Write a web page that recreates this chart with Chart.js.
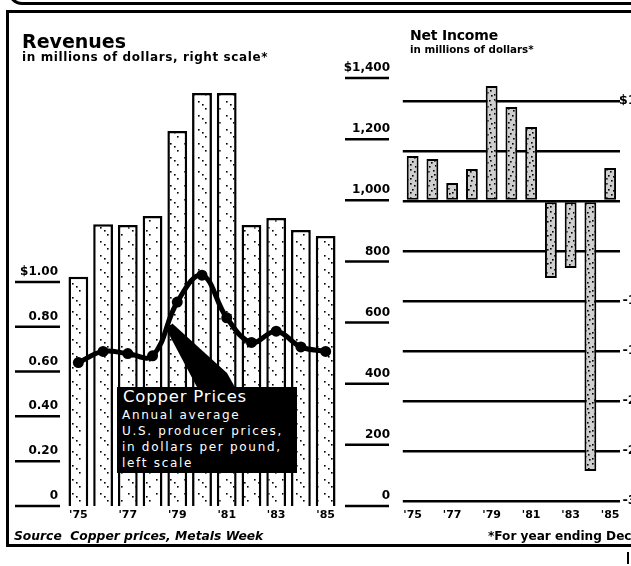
<!DOCTYPE html>
<html>
<head>
<meta charset="utf-8">
<script src="https://cdn.jsdelivr.net/npm/chart.js@4"></script>
<style>
  html, body { margin: 0; padding: 0; background: #fff; overflow: hidden; }
  #wrap { position: relative; width: 631px; height: 566px; overflow: hidden; font-family: "DejaVu Sans", sans-serif; color: #000; }
  canvas { position: absolute; top: 0; }
  #revChart { left: 0; }
  #incChart { left: 395px; }
  .txt { position: absolute; white-space: nowrap; font-weight: bold; }
  .rule { position: absolute; border-color: #000; border-style: solid; border-width: 0; }
  #copperBox { position: absolute; left: 117px; top: 387px; width: 180px; height: 86px; background: #000; color: #fff; }
  #copperBox .head { position: absolute; left: 6px; top: 1px; font-size: 16.5px; line-height: 18px; letter-spacing: 0.8px; }
  #copperBox .body { position: absolute; left: 5px; top: 20px; font-size: 12px; line-height: 16px; letter-spacing: 1.7px; }
</style>
</head>
<body>
<div id="wrap">
  <div class="rule" style="left:8px;top:-12px;width:700px;height:14px;border-left-width:3px;border-bottom-width:3px;border-bottom-left-radius:14px;"></div>
  <div class="rule" style="left:6px;top:10px;width:640px;border-top-width:3px;"></div>
  <div class="rule" style="left:6px;top:10px;height:536px;border-left-width:3px;"></div>
  <div class="rule" style="left:6px;top:544px;width:640px;border-top-width:3px;"></div>
  <div class="rule" style="left:627px;top:552px;height:12px;border-left-width:2px;"></div>

  <canvas id="revChart" width="400" height="566"></canvas>
  <canvas id="incChart" width="265" height="566"></canvas>

  <div class="txt" style="left:22px;top:31px;font-size:19px;line-height:20px;">Revenues</div>
  <div class="txt" style="left:22px;top:50px;font-size:12px;line-height:14px;letter-spacing:0.6px;">in millions of dollars, right scale*</div>
  <div class="txt" style="left:410px;top:26px;font-size:14px;line-height:18px;letter-spacing:-0.2px;">Net Income</div>
  <div class="txt" style="left:410px;top:42px;font-size:10.3px;line-height:14px;">in millions of dollars*</div>
  <div class="txt" style="left:14px;top:529px;font-size:12.3px;line-height:14px;font-style:italic;">Source&nbsp; Copper prices, Metals Week</div>
  <div class="txt" style="left:488px;top:529px;font-size:12.1px;line-height:14px;">*For year ending Dec. 31</div>

  <div id="copperBox">
    <div class="head">Copper Prices</div>
    <div class="body">Annual average<br>U.S. producer prices,<br>in dollars per pound,<br>left scale</div>
  </div>
</div>

<script>
const years = ["'75", "'76", "'77", "'78", "'79", "'80", "'81", "'82", "'83", "'84", "'85"];
// millions of dollars, right scale
const revenues = [750, 922, 919, 949, 1227, 1351, 1351, 919, 942, 903, 883];
// dollars per pound, left scale
const copperPrices = [0.64, 0.69, 0.68, 0.67, 0.91, 1.03, 0.84, 0.73, 0.78, 0.71, 0.69];
// millions of dollars
const netIncome = [45, 42, 18, 32, 115, 94, 74, -77, -67, -270, 33];

const revenueTicks = [0, 200, 400, 600, 800, 1000, 1200, 1400];
const priceTicks = [0, 0.2, 0.4, 0.6, 0.8, 1.0];
const incomeTicks = [100, 50, 0, -50, -100, -150, -200, -250, -300];

const boldFont = (size) => ({ family: '"DejaVu Sans", sans-serif', weight: 'bold', size });

// stipple fill like the newsprint screen
const makePattern = (bg, dots) => {
  const c = document.createElement('canvas');
  c.width = 14; c.height = 14;
  const g = c.getContext('2d');
  g.fillStyle = bg;
  g.fillRect(0, 0, 14, 14);
  g.fillStyle = '#000';
  dots.forEach(([x, y]) => g.fillRect(x, y, 1.6, 1.6));
  return g.createPattern(c, 'repeat');
};
const lightStipple = makePattern('#fff', [[2, 3], [9, 10], [6, 6]]);
const greyStipple = makePattern('#cfcfcf', [[1, 1], [5, 3], [10, 2], [3, 7], [8, 8], [12, 11], [6, 12], [1, 10], [11, 6]]);

const yearLabel = (i) => (i % 2 === 0 ? years[i] : '');

const tickUnderlines = {
  id: 'tickUnderlines',
  afterDraw(chart) {
    const { ctx } = chart;
    const yL = chart.scales.yL;
    const yR = chart.scales.yR;
    ctx.save();
    ctx.strokeStyle = '#000';
    ctx.lineWidth = 2.5;
    priceTicks.forEach((v) => {
      const y = yL.getPixelForValue(v);
      ctx.beginPath(); ctx.moveTo(15, y); ctx.lineTo(60, y); ctx.stroke();
    });
    revenueTicks.forEach((v) => {
      const y = yR.getPixelForValue(v);
      ctx.beginPath(); ctx.moveTo(345, y); ctx.lineTo(389, y); ctx.stroke();
    });
    ctx.restore();
  },
};

// black wedge from the copper line down to the label box
const calloutWedge = {
  id: 'calloutWedge',
  afterDatasetsDraw(chart) {
    const pts = chart.getDatasetMeta(0).data;
    const a = pts[3], b = pts[4];
    const t = 0.64;
    const tipX = a.x + (b.x - a.x) * t;
    const tipY = a.y + (b.y - a.y) * t + 8;
    const { ctx } = chart;
    ctx.save();
    ctx.fillStyle = '#000';
    ctx.beginPath();
    ctx.moveTo(tipX - 2, tipY);
    ctx.lineTo(tipX + 4, tipY - 6);
    ctx.lineTo(227, 373);
    ctx.lineTo(236, 389);
    ctx.lineTo(198, 389);
    ctx.closePath();
    ctx.fill();
    ctx.restore();
  },
};

const revChart = new Chart(document.getElementById('revChart').getContext('2d'), {
  data: {
    labels: years,
    datasets: [
      {
        type: 'line',
        label: 'Copper prices',
        data: copperPrices,
        yAxisID: 'yL',
        borderColor: '#000',
        borderWidth: 5,
        pointRadius: 5.5,
        pointBackgroundColor: '#000',
        pointBorderWidth: 0,
        tension: 0.4,
        order: 0,
      },
      {
        type: 'bar',
        label: 'Revenues',
        data: revenues,
        yAxisID: 'yR',
        backgroundColor: lightStipple,
        borderColor: '#000',
        borderWidth: 2.5,
        barPercentage: 0.8,
        categoryPercentage: 1,
        order: 1,
      },
    ],
  },
  options: {
    responsive: false,
    animation: false,
    layout: { padding: { top: 78, left: 0, right: 10, bottom: 0 } },
    plugins: { legend: { display: false }, tooltip: { enabled: false } },
    scales: {
      x: {
        grid: { display: false, drawTicks: false },
        border: { display: false },
        ticks: { autoSkip: false, maxRotation: 0, padding: 3, color: '#000', font: boldFont(11), callback: (v, i) => yearLabel(i) },
        afterFit: (s) => { s.height = 60; },
      },
      yL: {
        position: 'left',
        min: 0,
        max: 1.91,
        afterBuildTicks: (s) => { s.ticks = priceTicks.map((value) => ({ value })); },
        grid: { display: false, drawTicks: false },
        border: { display: false },
        ticks: {
          padding: 8, labelOffset: -10, color: '#000', font: boldFont(12),
          callback: (v) => (v === 1 ? '$1.00' : v === 0 ? '0' : v.toFixed(2)),
        },
        afterFit: (s) => { s.width = 66; },
      },
      yR: {
        position: 'right',
        min: 0,
        max: 1400,
        afterBuildTicks: (s) => { s.ticks = revenueTicks.map((value) => ({ value })); },
        grid: { display: false, drawTicks: false },
        border: { display: false },
        ticks: {
          crossAlign: 'far', padding: 5, labelOffset: -10, color: '#000', font: boldFont(12),
          callback: (v) => (v === 1400 ? '$1,400' : v.toLocaleString('en-US')),
        },
        afterFit: (s) => { s.width = 52; },
      },
    },
  },
  plugins: [tickUnderlines, calloutWedge],
});

const incChart = new Chart(document.getElementById('incChart').getContext('2d'), {
  type: 'bar',
  data: {
    labels: years,
    datasets: [{
      label: 'Net income',
      data: netIncome,
      backgroundColor: greyStipple,
      borderColor: '#000',
      borderWidth: 2,
      borderSkipped: false,
      barPercentage: 0.6,
      categoryPercentage: 1,
    }],
  },
  options: {
    responsive: false,
    animation: false,
    layout: { padding: { top: 71, left: 7, right: 5, bottom: 0 } },
    plugins: { legend: { display: false }, tooltip: { enabled: false } },
    scales: {
      x: {
        grid: { display: false, drawTicks: false },
        border: { display: false },
        ticks: { autoSkip: false, maxRotation: 0, padding: 8, color: '#000', font: boldFont(11), callback: (v, i) => yearLabel(i) },
        afterFit: (s) => { s.height = 65; },
      },
      y: {
        position: 'right',
        min: -300,
        max: 130,
        afterBuildTicks: (s) => { s.ticks = incomeTicks.map((value) => ({ value })); },
        grid: { drawTicks: false, lineWidth: 2.5, color: '#000' },
        border: { display: false },
        ticks: {
          crossAlign: 'far', padding: 0, color: '#000', font: boldFont(13),
          callback: (v) => (v === 100 ? '$100' : String(v)),
        },
        afterFit: (s) => { s.width = 35; },
      },
    },
  },
});
</script>
</body>
</html>
